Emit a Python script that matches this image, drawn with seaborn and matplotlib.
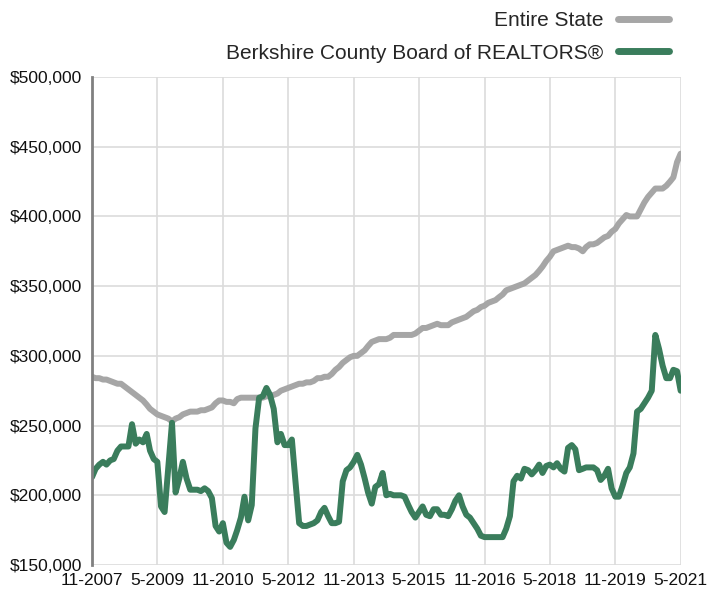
import numpy as np
import pandas as pd
import matplotlib
matplotlib.use("Agg")
import matplotlib.pyplot as plt
import seaborn as sns

# Monthly median sales price, Nov 2007 .. May 2021 (thousands of $)
start_month = "2007-11-01"
end_month = "2021-05-01"

entire_state = [
    285, 284, 284, 283, 283, 282, 281, 280, 280, 278,
    276, 274, 272, 270, 268, 265, 262, 260, 258, 257,
    256, 255, 253, 255, 256, 258, 259, 260, 260, 260,
    261, 261, 262, 263, 266, 268, 268, 267, 267, 266,
    269, 270, 270, 270, 270, 270, 270, 270, 271, 271,
    272, 273, 275, 276, 277, 278, 279, 280, 280, 281,
    281, 282, 284, 284, 285, 285, 287, 290, 292, 295,
    297, 299, 300, 300, 302, 304, 307, 310, 311, 312,
    312, 312, 313, 315, 315, 315, 315, 315, 315, 316,
    318, 320, 320, 321, 322, 323, 322, 322, 322, 324,
    325, 326, 327, 328, 330, 332, 333, 335, 336, 338,
    339, 340, 342, 344, 347, 348, 349, 350, 351, 352,
    354, 356, 358, 361, 364, 368, 371, 375, 376, 377,
    378, 379, 378, 378, 377, 375, 378, 380, 380, 381,
    383, 385, 386, 389, 391, 395, 398, 401, 400, 400,
    400, 405, 410, 414, 417, 420, 420, 420, 422, 425,
    428, 439, 445,
]

berkshire = [
    213, 219, 222, 224, 222, 225, 226, 232, 235, 235,
    235, 251, 237, 240, 238, 244, 232, 226, 224, 192,
    188, 220, 252, 202, 212, 224, 212, 204, 204, 204,
    203, 205, 203, 198, 178, 174, 180, 166, 163, 168,
    175, 184, 199, 182, 193, 248, 270, 271, 277, 272,
    262, 238, 244, 236, 236, 240, 210, 180, 178, 178,
    179, 180, 182, 188, 191, 185, 180, 180, 181, 210,
    218, 220, 224, 229, 222, 212, 202, 194, 206, 208,
    216, 200, 201, 200, 200, 200, 199, 193, 188, 184,
    188, 192, 186, 185, 190, 190, 186, 186, 185, 190,
    196, 200, 192, 186, 184, 180, 176, 171, 170, 170,
    170, 170, 170, 170, 176, 185, 210, 214, 212, 219,
    218, 215, 218, 222, 216, 221, 222, 220, 223, 219,
    217, 234, 236, 233, 218, 219, 220, 220, 220, 218,
    211, 214, 219, 205, 199, 199, 207, 216, 220, 230,
    260, 262, 266, 270, 275, 315, 305, 293, 284, 284,
    290, 289, 275,
]

series_names = ["Entire State", "Berkshire County Board of REALTORS®"]
series_colors = ["#a6a6a6", "#3a7d5c"]
tick_dates = ["2007-11-01", "2009-05-01", "2010-11-01", "2012-05-01", "2013-11-01",
              "2015-05-01", "2016-11-01", "2018-05-01", "2019-11-01", "2021-05-01"]
tick_labels = ["11-2007", "5-2009", "11-2010", "5-2012", "11-2013",
               "5-2015", "11-2016", "5-2018", "11-2019", "5-2021"]
y_ticks = [150000, 200000, 250000, 300000, 350000, 400000, 450000, 500000]

dates = pd.date_range(start_month, end_month, freq="MS")
df = pd.concat([
    pd.DataFrame({"date": dates, "value": np.array(entire_state) * 1000, "series": series_names[0]}),
    pd.DataFrame({"date": dates, "value": np.array(berkshire) * 1000, "series": series_names[1]}),
])

sns.set_style("white")
plt.rcParams["font.family"] = ["Liberation Sans", "DejaVu Sans"]

fig = plt.figure(figsize=(7.18, 5.92), dpi=100)
ax = fig.add_axes([92 / 718, 1 - 565 / 592, (681 - 92) / 718, (565 - 77) / 592])

sns.lineplot(data=df, x="date", y="value", hue="series", hue_order=series_names,
             palette=series_colors, linewidth=4.3, ax=ax, legend=True,
             solid_capstyle="round", solid_joinstyle="round")

ax.set_xlim(pd.Timestamp(start_month), pd.Timestamp(end_month) + pd.Timedelta(days=3))
ax.set_ylim(150000, 500000)
ax.set_xticks(pd.to_datetime(tick_dates))
ax.set_xticklabels(tick_labels, fontsize=12.5, color="#111111")
ax.set_yticks(y_ticks)
ax.set_yticklabels([f"${v:,.0f}" for v in y_ticks], fontsize=12.5, color="#111111")
ax.set_xlabel("")
ax.set_ylabel("")

ax.grid(True, color="#dcdcdc", linewidth=1.2)
ax.set_axisbelow(True)
for s in ["top", "right", "bottom"]:
    ax.spines[s].set_visible(False)
ax.spines["left"].set_color("#808080")
ax.spines["left"].set_linewidth(2)
ax.tick_params(axis="y", length=4, width=1, color="#808080", pad=3)
ax.tick_params(axis="x", length=0, pad=6)

handles, labels = ax.get_legend_handles_labels()
ax.legend(handles, labels, loc="upper right", bbox_to_anchor=(669 / 718, 1 - 11 / 592),
          bbox_transform=fig.transFigure, frameon=False, markerfirst=False, borderpad=0,
          borderaxespad=0, fontsize=15, handlelength=2.45, handletextpad=0.7, labelspacing=0.65)
for line in ax.get_legend().get_lines():
    line.set_linewidth(5)
    line.set_solid_capstyle("round")

fig.savefig("out.png", dpi=100)
